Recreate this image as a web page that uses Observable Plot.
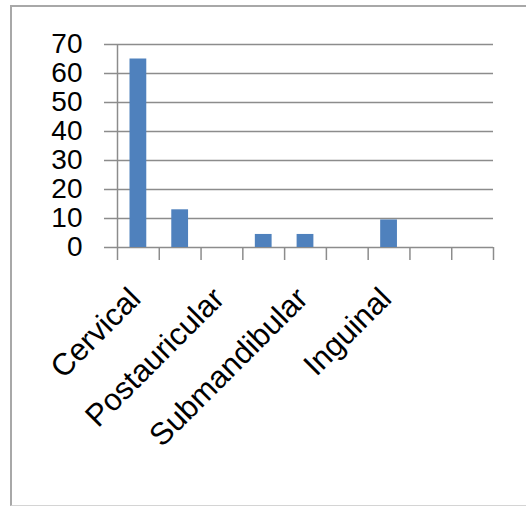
<!DOCTYPE html>
<html>
<head>
<meta charset="utf-8">
<script src="https://cdn.jsdelivr.net/npm/d3@7"></script>
<script src="https://cdn.jsdelivr.net/npm/@observablehq/plot@0.6"></script>
<style>
  html, body { margin: 0; padding: 0; background: #fff; overflow: hidden; }
  #frame { position: absolute; left: 10px; top: 5px; width: 600px; height: 498px;
    border-left: 2px solid #a8a8a8; border-top: 2px solid #a8a8a8; border-bottom: 1px solid #d4d4d4; }
  #chart { position: absolute; left: 0; top: 0; }
</style>
</head>
<body>
<div id="frame"></div>
<div id="chart"></div>
<script>
const categories = ["Cervical", "Axillary", "Postauricular", "Preauricular", "Submandibular", "Occipital", "Inguinal", "Supraclavicular", "Generalized"];
const values = [65, 13, 0, 4.5, 4.5, 0, 9.5, 0, 0];
const shownLabels = ["Cervical", "Postauricular", "Submandibular", "Inguinal"];
const yTicks = [0, 10, 20, 30, 40, 50, 60, 70];

const data = categories.map((c, i) => ({category: c, index: i, value: values[i]}));
const boundaries = d3.range(0, categories.length + 1);
const labelPos = shownLabels.map(l => categories.indexOf(l) + 0.5);
const gridColor = "#8c8c8c";
const font = "Liberation Sans, Arial, sans-serif";

const chart = Plot.plot({
  width: 526,
  height: 506,
  marginLeft: 117,
  marginRight: 33,
  marginTop: 44,
  marginBottom: 259,
  style: {fontFamily: font, background: "transparent"},
  x: {type: "linear", domain: [0, categories.length], axis: null},
  y: {domain: [0, 70], axis: null},
  marks: [
    Plot.ruleY(yTicks, {stroke: gridColor, strokeWidth: 1.5, insetLeft: -13}),
    Plot.ruleX([0], {y1: 0, y2: 70, stroke: gridColor, strokeWidth: 1.5}),
    Plot.axisX({ticks: boundaries, tickSize: 13, tickFormat: () => "", label: null, stroke: gridColor, strokeWidth: 1.5}),
    Plot.rectY(data, {x1: "index", x2: d => d.index + 1, y: "value", fill: "#4f81bd", insetLeft: 12.5, insetRight: 12.5}),
    Plot.axisY({ticks: yTicks, tickSize: 0, tickPadding: 35, fontSize: 28, fill: "#000", label: null}),
    Plot.axisX({ticks: labelPos, tickSize: 0, tickRotate: -45, tickPadding: 46, dx: -3, fontSize: 31, fill: "#000", label: null,
      tickFormat: d => categories[Math.floor(d)]})
  ]
});
document.getElementById("chart").appendChild(chart);
</script>
</body>
</html>
